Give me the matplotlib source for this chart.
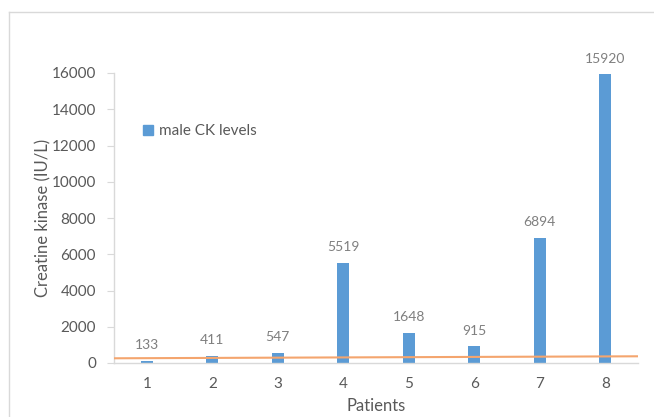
import matplotlib
matplotlib.use("Agg")
import matplotlib.pyplot as plt
from matplotlib.lines import Line2D
from matplotlib.patches import Patch

# Data
patients = ["1", "2", "3", "4", "5", "6", "7", "8"]
ck_levels = [133, 411, 547, 5519, 1648, 915, 6894, 15920]
reference_line = [260, 370]  # reference level at left and right edges of the plot
y_ticks = [0, 2000, 4000, 6000, 8000, 10000, 12000, 14000, 16000]

plt.rcParams["font.family"] = ["Lato", "DejaVu Sans"]
text_color = "#595959"
bar_color = "#5B9BD5"
line_color = "#F4A56E"

W, H = 654, 417
fig = plt.figure(figsize=(W / 100, H / 100), dpi=100)

# Chart area border
fig.add_artist(Line2D([9 / W, 9 / W], [0, 1 - 12 / H], transform=fig.transFigure,
                      color="#D9D9D9", lw=1))
fig.add_artist(Line2D([9 / W, 1], [1 - 12 / H, 1 - 12 / H], transform=fig.transFigure,
                      color="#D9D9D9", lw=1))

left, right = 114 / W, 638 / W
bottom, top = 1 - 363 / H, 1 - 73 / H
ax = fig.add_axes([left, bottom, right - left, top - bottom])

x = list(range(len(patients)))
bars = ax.bar(x, ck_levels, width=0.185, color=bar_color, zorder=2)
for xi, v in zip(x, ck_levels):
    ax.annotate(str(v), (xi, v), xytext=(0, 7), textcoords="offset points",
                ha="center", va="bottom", fontsize=10, color="#7F7F7F")

ax.plot([-0.5, len(patients) - 0.5], reference_line, color=line_color, lw=1.5, zorder=3)

ax.set_xlim(-0.5, len(patients) - 0.5)
ax.set_ylim(0, 16000)
ax.set_xticks(x)
ax.set_xticklabels(patients)
ax.set_yticks(y_ticks)
ax.set_yticklabels([str(t) for t in y_ticks])

for s in ["top", "right"]:
    ax.spines[s].set_visible(False)
ax.spines["left"].set_color("#D9D9D9")
ax.spines["bottom"].set_color("#D9D9D9")
ax.spines["left"].set_linewidth(1)
ax.spines["bottom"].set_linewidth(1)
ax.tick_params(axis="y", colors="#D9D9D9", labelcolor=text_color, labelsize=11,
               length=5, direction="out", pad=8)
ax.tick_params(axis="x", length=0, labelcolor=text_color, labelsize=11, pad=10)

ax.set_xlabel("Patients", fontsize=12, color=text_color, labelpad=5)
ax.set_ylabel("Creatine kinase (IU/L)", fontsize=12, color=text_color, labelpad=0)

ax.legend(handles=[Patch(color=bar_color, label="male CK levels")],
          loc="upper left", bbox_to_anchor=(0.03, 0.87), frameon=False,
          fontsize=11, labelcolor=text_color, handlelength=0.6, handleheight=0.6,
          handletextpad=0.4)

fig.savefig("out.png", dpi=100)
